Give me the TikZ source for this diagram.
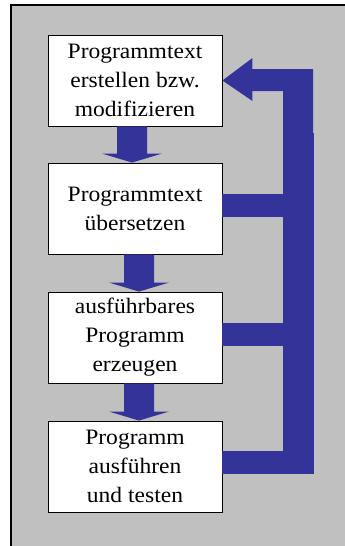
\documentclass[tikz,border=0pt]{standalone}
\usepackage{fontspec}
\setmainfont{Liberation Serif}[FakeStretch=1.07]
\usetikzlibrary{calc}
\definecolor{bgGray}{RGB}{192,192,192}
\definecolor{arrowBlue}{RGB}{51,51,153}
\tikzset{
  stepbox/.style={draw=black, line width=0.9pt, fill=white, minimum width=174pt, minimum height=91pt,
    inner sep=0pt, align=center, font=\fontsize{22}{29}\selectfont},
  fatarrow/.style={fill=arrowBlue},
}
\newcommand{\fatdown}[3]{%
  \fill[fatarrow] let \p1=($(#1.south)+(#3,0)$), \p2=($(#2.north)+(#3,0)$) in
    (\x1-15pt,\y1) -- (\x1+15pt,\y1) -- (\x1+15pt,\y2+9pt) -- (\x1+30pt,\y2+9pt)
    -- (\x1,\y2) -- (\x1-30pt,\y2+9pt) -- (\x1-15pt,\y2+9pt) -- cycle;}
\begin{document}
\begin{tikzpicture}[x=1pt,y=-1pt]
\useasboundingbox (0,0) rectangle (345,546);
\fill[white] (0,0) rectangle (345,546);
\fill[bgGray] (11,5) rectangle (350,551);
\draw[black, line width=1.2pt] (11,551) -- (11,5) -- (350,5);

\node[stepbox] (b1) at (135,80.5) {Programmtext\\erstellen bzw.\\modifizieren};
\node[stepbox] (b2) at (135,208.5) {Programmtext\\übersetzen};
\node[stepbox] (b3) at (135,337.5) {ausführbares\\Programm\\erzeugen};
\node[stepbox] (b4) at (135,466.5) {Programm\\ausführen\\und testen};

\fatdown{b1}{b2}{-3}
\fatdown{b2}{b3}{4}
\fatdown{b3}{b4}{4}

% feedback bus
\coordinate (busTop) at (313,69);
\coordinate (busBot) at (314,474);
\fill[fatarrow] (b1.east) -- ++(30,-22.5) -- ++(0,11) -- (busTop) -- (313,133) -- (283,133)
  -- (283,91) -- ($(b1.east)+(30,10.5)$) -- ++(0,10) -- cycle;
\fill[fatarrow] (283,133) rectangle (busBot);
\fill[fatarrow] ($(b2.east)+(0,-14.5)$) rectangle ++(61,23);
\fill[fatarrow] ($(b3.east)+(0,-14.5)$) rectangle ++(61,23);
\fill[fatarrow] ($(b4.east)+(0,-15.5)$) rectangle ++(91,23);
\end{tikzpicture}
\end{document}
